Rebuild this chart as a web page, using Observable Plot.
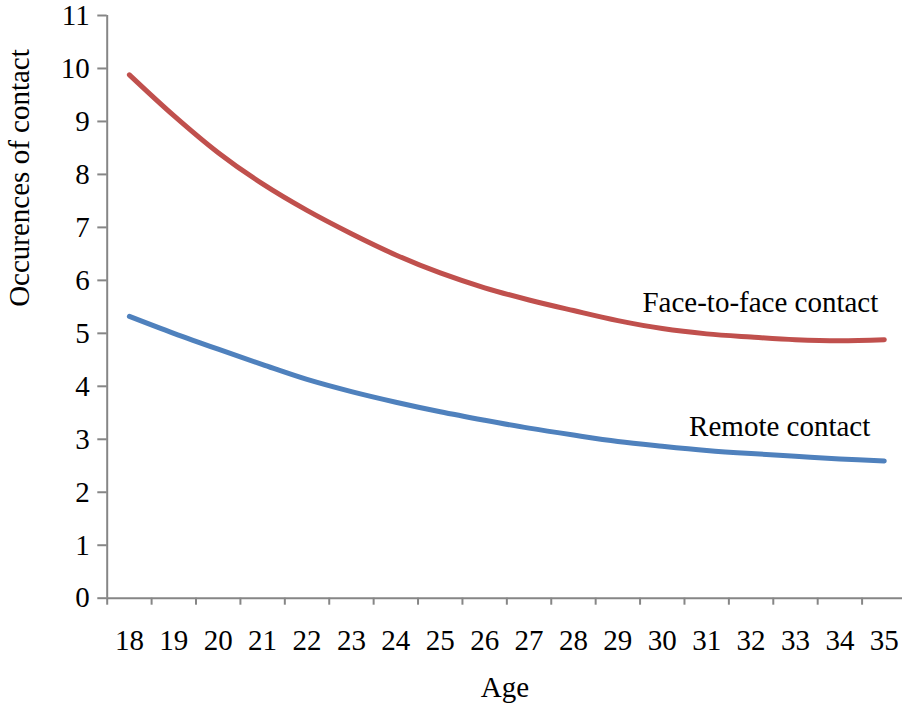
<!DOCTYPE html>
<html><head><meta charset="utf-8">
<script src="https://cdn.jsdelivr.net/npm/d3@7"></script>
<script src="https://cdn.jsdelivr.net/npm/@observablehq/plot@0.6"></script>
<style>
body{margin:0;background:#fff;font-family:"Liberation Serif",serif;}
svg{display:block;}
</style>
</head><body><div id="chart"></div>
<script>
const ages = [18,19,20,21,22,23,24,25,26,27,28,29,30,31,32,33,34,35];
const faceToFace = [9.88,9.11,8.41,7.82,7.32,6.88,6.48,6.14,5.86,5.63,5.43,5.24,5.09,4.99,4.93,4.88,4.86,4.88];
const remote = [5.32,5.00,4.70,4.41,4.13,3.90,3.70,3.52,3.36,3.21,3.08,2.96,2.87,2.79,2.73,2.68,2.63,2.59];
const seriesNames = ["Face-to-face contact","Remote contact"];
const seriesColors = ["#C0504D","#4F81BD"];
const yTicks = [0,1,2,3,4,5,6,7,8,9,10,11];
const xTitle = "Age";
const yTitle = "Occurences of contact";

const rows = [];
ages.forEach((a,i)=>{
  rows.push({age:a, value:faceToFace[i], series:seriesNames[0]});
  rows.push({age:a, value:remote[i], series:seriesNames[1]});
});
const boundaries = ages.map(a => a - 0.5);
const axisColor = "#868686";
const font = "Liberation Serif";

const chart = Plot.plot({
  width: 902, height: 709,
  marginLeft: 106.7, marginRight: 0, marginTop: 15, marginBottom: 111.3,
  style: "font-family:'Liberation Serif',serif;font-size:29px;color:#000;background:#fff;overflow:hidden;",
  x: {type: "linear", domain: [17.5, 35.5], range: [106.7, 906]},
  y: {domain: [0, 11], range: [597.7, 15]},
  color: {domain: seriesNames, range: seriesColors},
  marks: [
    Plot.axisY({ticks: yTicks, tickSize: 9.4, tickPadding: 8, stroke: axisColor, fill: "#000", label: null, fontSize: 29, strokeWidth: 2}),
    Plot.axisX({ticks: boundaries, tickSize: 7, tickFormat: () => "", stroke: axisColor, label: null, strokeWidth: 2}),
    Plot.axisX({ticks: ages, tickSize: 0, tickPadding: 31, tickFormat: d => String(d), fill: "#000", label: null, fontSize: 29}),
    Plot.ruleY([0], {stroke: axisColor, strokeWidth: 2}),
    Plot.ruleX([17.5], {y1: 0, y2: 11, stroke: axisColor, strokeWidth: 2}),
    Plot.line(rows, {x: "age", y: "value", z: "series", stroke: "series", strokeWidth: 5, curve: "catmull-rom", strokeLinecap: "round"}),
    Plot.text([seriesNames[0]], {x: 35, y: 5.40, text: d => d, textAnchor: "end", lineAnchor: "bottom", dx: -6, fontSize: 29, fill: "#000"}),
    Plot.text([seriesNames[1]], {x: 35, y: 3.07, text: d => d, textAnchor: "end", lineAnchor: "bottom", dx: -14, fontSize: 29, fill: "#000"}),
    Plot.text([yTitle], {frameAnchor: "left", text: d => d, rotate: -90, dx: -87, fontSize: 29, fill: "#000"}),
    Plot.text([xTitle], {frameAnchor: "bottom", text: d => d, lineAnchor: "bottom", dy: 99, fontSize: 29, fill: "#000"})
  ]
});
chart.setAttribute("font-family", font);
d3.select(chart).selectAll("g").attr("font-family", null);
d3.select(chart).selectAll("text").attr("font-family", font).style("font-family", "'Liberation Serif', serif");
document.getElementById("chart").appendChild(chart);
</script>
</body></html>
